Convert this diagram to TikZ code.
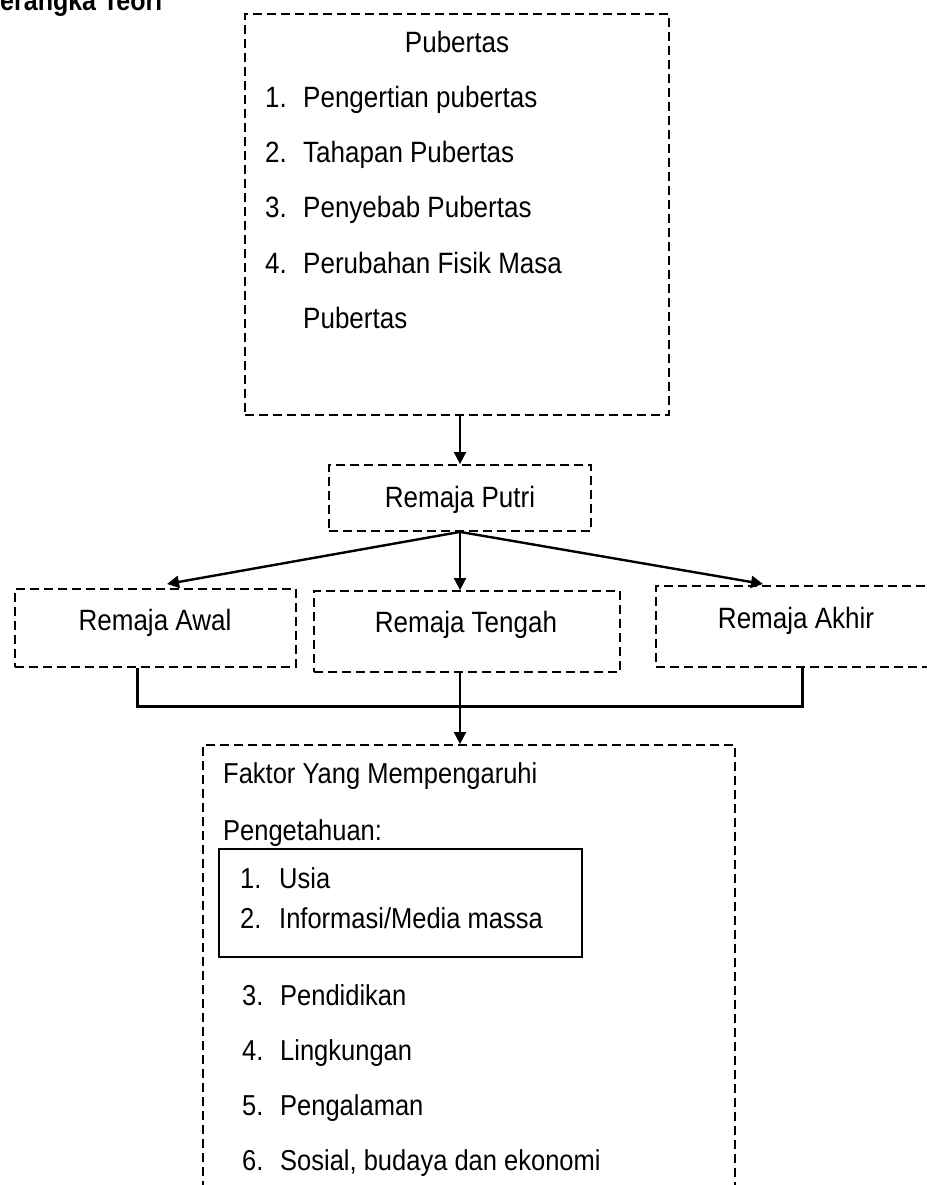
\documentclass[tikz,border=0pt]{standalone}
\usepackage{fontspec}
\usepackage{graphicx}
\setmainfont{Liberation Sans}
\usetikzlibrary{arrows.meta}
\newcommand{\tallt}[1]{\scalebox{1}[1.13]{#1}}
\begin{document}
\begin{tikzpicture}[x=1pt,y=-1pt,
  dbox/.style={draw,line width=1.8pt,dash pattern=on 9pt off 5pt,inner sep=0pt},
  sbox/.style={draw,line width=1.8pt,inner sep=0pt},
  txt/.style={inner sep=0pt,anchor=base west,font=\fontsize{26}{30}\selectfont},
  ctxt/.style={inner sep=0pt,anchor=base,font=\fontsize{26}{30}\selectfont},
  ftxt/.style={inner sep=0pt,anchor=base west,font=\fontsize{25.5}{30}\selectfont},
  arr/.style={line width=1.8pt,-{Triangle[length=12pt,width=12pt]}},
  darr/.style={line width=2.4pt,-{Triangle[length=12pt,width=12pt]}},
  bus/.style={line width=3pt}]
\useasboundingbox (0,0) rectangle (926,1185);
% title (cut by the page edge)
\node[inner sep=0pt,anchor=base west,font=\bfseries\fontsize{25}{30}\selectfont] (title) at (-18,11) {\tallt{Kerangka Teori}};
% boxes
\node[dbox,minimum width=424pt,minimum height=401pt] (pub) at (457,214.5) {};
\node[dbox,minimum width=262pt,minimum height=66pt] (putri) at (460,498) {};
\node[dbox,minimum width=281pt,minimum height=78pt] (awal) at (155.5,628) {};
\node[dbox,minimum width=306pt,minimum height=81pt] (tengah) at (467,631.5) {};
\node[dbox,minimum width=290pt,minimum height=81pt] (akhir) at (801,626.5) {};
\node[dbox,minimum width=532pt,minimum height=460pt] (faktor) at (469,975) {};
\node[sbox,minimum width=363pt,minimum height=108pt] (inner) at (400.5,903) {};
% Pubertas texts
\node[ctxt] (t0) at (457,53) {\tallt{Pubertas}};
\node[txt] (n1) at (265,108) {\tallt{1.}};
\node[txt] (i1) at (303,108) {\tallt{Pengertian pubertas}};
\node[txt] (n2) at (265,163) {\tallt{2.}};
\node[txt] (i2) at (303,163) {\tallt{Tahapan Pubertas}};
\node[txt] (n3) at (265,218) {\tallt{3.}};
\node[txt] (i3) at (303,218) {\tallt{Penyebab Pubertas}};
\node[txt] (n4) at (265,273) {\tallt{4.}};
\node[txt] (i4) at (303,273) {\tallt{Perubahan Fisik Masa}};
\node[txt] (i4b) at (303,328) {\tallt{Pubertas}};
% middle texts
\node[ctxt] (tp) at (460,507) {\tallt{Remaja Putri}};
\node[ctxt] (ta) at (155,630) {\tallt{Remaja Awal}};
\node[ctxt] (tt) at (466,632) {\tallt{Remaja Tengah}};
\node[ctxt] (tk) at (796,628) {\tallt{Remaja Akhir}};
% Faktor texts
\node[ftxt] (f0) at (223,783) {\tallt{Faktor Yang Mempengaruhi}};
\node[ftxt] (f1) at (223,840) {\tallt{Pengetahuan:}};
\node[ftxt] (m1) at (240,888) {\tallt{1.}};
\node[ftxt] (j1) at (279,888) {\tallt{Usia}};
\node[ftxt] (m2) at (240,928) {\tallt{2.}};
\node[ftxt] (j2) at (279,928) {\tallt{Informasi/Media massa}};
\node[ftxt] (m3) at (242,1005) {\tallt{3.}};
\node[ftxt] (j3) at (280,1005) {\tallt{Pendidikan}};
\node[ftxt] (m4) at (242,1060) {\tallt{4.}};
\node[ftxt] (j4) at (280,1060) {\tallt{Lingkungan}};
\node[ftxt] (m5) at (242,1115) {\tallt{5.}};
\node[ftxt] (j5) at (280,1115) {\tallt{Pengalaman}};
\node[ftxt] (m6) at (242,1170) {\tallt{6.}};
\node[ftxt] (j6) at (280,1170) {\tallt{Sosial, budaya dan ekonomi}};
% connectors
\coordinate (tipA) at (167,584);
\coordinate (tipK) at (763,584);
\coordinate (bus1) at (137,706);
\coordinate (bus2) at (802,706);
\draw[arr] (putri.north |- pub.south) -- (putri.north);
\draw[darr] (putri.south) -- (tipA);
\draw[darr] (putri.south) -- (tipK);
\draw[arr] (putri.south) -- (putri.south |- tengah.north);
\draw[bus] (awal.south -| bus1) -- (bus1) -- (bus2) -- (akhir.south -| bus2);
\draw[arr] (putri.south |- tengah.south) -- (putri.south |- faktor.north);
\end{tikzpicture}
\end{document}
